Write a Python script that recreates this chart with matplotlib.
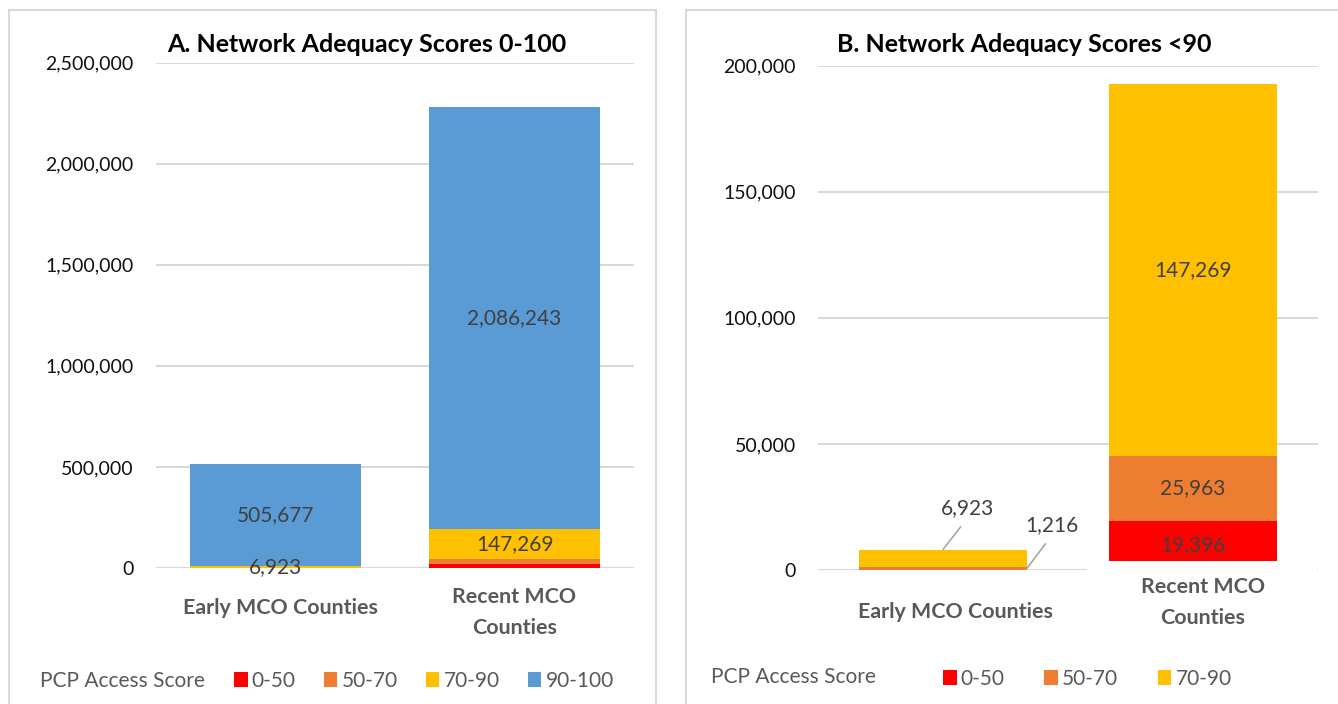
import matplotlib
matplotlib.use("Agg")
import matplotlib.pyplot as plt
from matplotlib.patches import Rectangle, Patch
from matplotlib.ticker import FuncFormatter

plt.rcParams['font.family'] = ['Lato', 'DejaVu Sans']

# data
categories = ['Early MCO Counties', 'Recent MCO\nCounties']
score_bands = ['0-50', '50-70', '70-90', '90-100']
counts_0_50 = [0, 19396]
counts_50_70 = [1216, 25963]
counts_70_90 = [6923, 147269]
counts_90_100 = [505677, 2086243]
ticks_a = [0, 500000, 1000000, 1500000, 2000000, 2500000]
ticks_b = [0, 50000, 100000, 150000, 200000]

colors = ['#FF0000', '#ED7D31', '#FFC000', '#5B9BD5']
grid_col = '#D9D9D9'
lab_col = '#404040'
cat_col = '#595959'

fig = plt.figure(figsize=(13.38, 7.04), dpi=100)

# panel frames
fig.add_artist(Rectangle((0.0067, -0.02), 0.4836, 1.0065, transform=fig.transFigure,
                         fill=False, edgecolor=grid_col, lw=1.5))
fig.add_artist(Rectangle((0.5127, -0.02), 0.52, 1.0065, transform=fig.transFigure,
                         fill=False, edgecolor=grid_col, lw=1.5))

axA = fig.add_axes([0.1166, 0.1932, 0.3573, 0.7180])
axB = fig.add_axes([0.6114, 0.1903, 0.3737, 0.7164])

fmt = FuncFormatter(lambda v, p: f'{int(v):,}')


def style_axis(ax, ticks, ylim):
    ax.set_ylim(*ylim)
    ax.set_xlim(-0.5, 1.5)
    ax.set_yticks(ticks)
    ax.yaxis.set_major_formatter(fmt)
    ax.grid(axis='y', color=grid_col, lw=1.5, zorder=0)
    ax.set_axisbelow(True)
    for s in ax.spines.values():
        s.set_visible(False)
    ax.tick_params(axis='y', length=0, labelsize=14, labelcolor='#111111', pad=16)
    ax.set_xticks([])


x = [0, 1]

# ---- panel A ----
style_axis(axA, ticks_a, (0, 2500000))
series_a = [counts_0_50, counts_50_70, counts_70_90, counts_90_100]
bottom = [0, 0]
for i, vals in enumerate(series_a):
    axA.bar(x, vals, width=0.715, bottom=bottom, color=colors[i], zorder=2)
    if i >= 2:
        for j, v in enumerate(vals):
            axA.text(x[j], bottom[j] + v / 2, f'{v:,}', ha='center', va='center',
                     fontsize=15, color=lab_col, zorder=4)
    bottom = [bottom[k] + vals[k] for k in range(2)]

axA.text(0.02, -0.08, categories[0], transform=axA.get_xaxis_transform(), ha='center',
         va='center', fontsize=15.4, fontweight='bold', color=cat_col)
axA.text(1, -0.088, categories[1], transform=axA.get_xaxis_transform(), ha='center',
         va='center', fontsize=15.4, fontweight='bold', color=cat_col, linespacing=1.7)

fig.text(367 / 1338, 1 - 44 / 704, 'A. Network Adequacy Scores 0-100', ha='center',
         va='center', fontsize=18, fontweight='bold', color='black')

# ---- panel B ----
style_axis(axB, ticks_b, (0, 200000))
series_b = [counts_0_50, counts_50_70, counts_70_90]
bottom = [0, 0]
for i, vals in enumerate(series_b):
    axB.bar(x, vals, width=0.67, bottom=bottom, color=colors[i], zorder=2)
    bottom = [bottom[k] + vals[k] for k in range(2)]

# recent bar labels inside segments
bottom = 0
for i, vals in enumerate(series_b):
    axB.text(1, bottom + vals[1] / 2, f'{vals[1]:,}', ha='center', va='center',
             fontsize=15, color=lab_col, zorder=4)
    bottom += vals[1]

# early bar labels with leader lines
axB.annotate(f'{counts_70_90[0]:,}', xy=(0, counts_50_70[0] + counts_70_90[0]),
             xytext=(24, 31), textcoords='offset pixels', ha='center', va='bottom',
             fontsize=15, color=lab_col,
             arrowprops=dict(arrowstyle='-', color='#A6A6A6', lw=1.2,
                             shrinkA=5, shrinkB=0, relpos=(0.5, 0)))
axB.annotate(f'{counts_50_70[0]:,}', xy=(0.335, counts_50_70[0] / 2),
             xytext=(25, 33), textcoords='offset pixels', ha='center', va='bottom',
             fontsize=15, color=lab_col,
             arrowprops=dict(arrowstyle='-', color='#A6A6A6', lw=1.2,
                             shrinkA=5, shrinkB=0, relpos=(0.5, 0)))

# white band hiding the base of the recent bar, as in the original
axB.add_patch(Rectangle((0.538, -0.02), 0.459, 0.038, transform=axB.transAxes,
                        facecolor='white', edgecolor='none', zorder=3, clip_on=False))

axB.text(0.05, -0.084, categories[0], transform=axB.get_xaxis_transform(), ha='center',
         va='center', fontsize=15.4, fontweight='bold', color=cat_col)
axB.text(1.04, -0.064, categories[1], transform=axB.get_xaxis_transform(), ha='center',
         va='center', fontsize=15.4, fontweight='bold', color=cat_col, linespacing=1.7)

fig.text(1024 / 1338, 1 - 44 / 704, 'B. Network Adequacy Scores <90', ha='center',
         va='center', fontsize=18, fontweight='bold', color='black')

# ---- legends ----
fig.text(40 / 1338, 1 - 681 / 704, 'PCP Access Score', ha='left', va='center',
         fontsize=15, color=cat_col)
handles_a = [Patch(facecolor=colors[i], label=score_bands[i]) for i in range(4)]
legA = fig.legend(handles=handles_a, ncol=4, loc='center left',
                  bbox_to_anchor=(234 / 1338, 1 - 681 / 704), frameon=False,
                  fontsize=15, handlelength=0.65, handleheight=0.75,
                  handletextpad=0.2, columnspacing=1.35, borderpad=0, borderaxespad=0)
for t in legA.get_texts():
    t.set_color(cat_col)

fig.text(711 / 1338, 1 - 677 / 704, 'PCP Access Score', ha='left', va='center',
         fontsize=15, color=cat_col)
handles_b = [Patch(facecolor=colors[i], label=score_bands[i]) for i in range(3)]
legB = fig.legend(handles=handles_b, ncol=3, loc='center left',
                  bbox_to_anchor=(943 / 1338, 1 - 679 / 704), frameon=False,
                  fontsize=15, handlelength=0.65, handleheight=0.75,
                  handletextpad=0.2, columnspacing=1.9, borderpad=0, borderaxespad=0)
for t in legB.get_texts():
    t.set_color(cat_col)

fig.savefig('out.png', dpi=100)
